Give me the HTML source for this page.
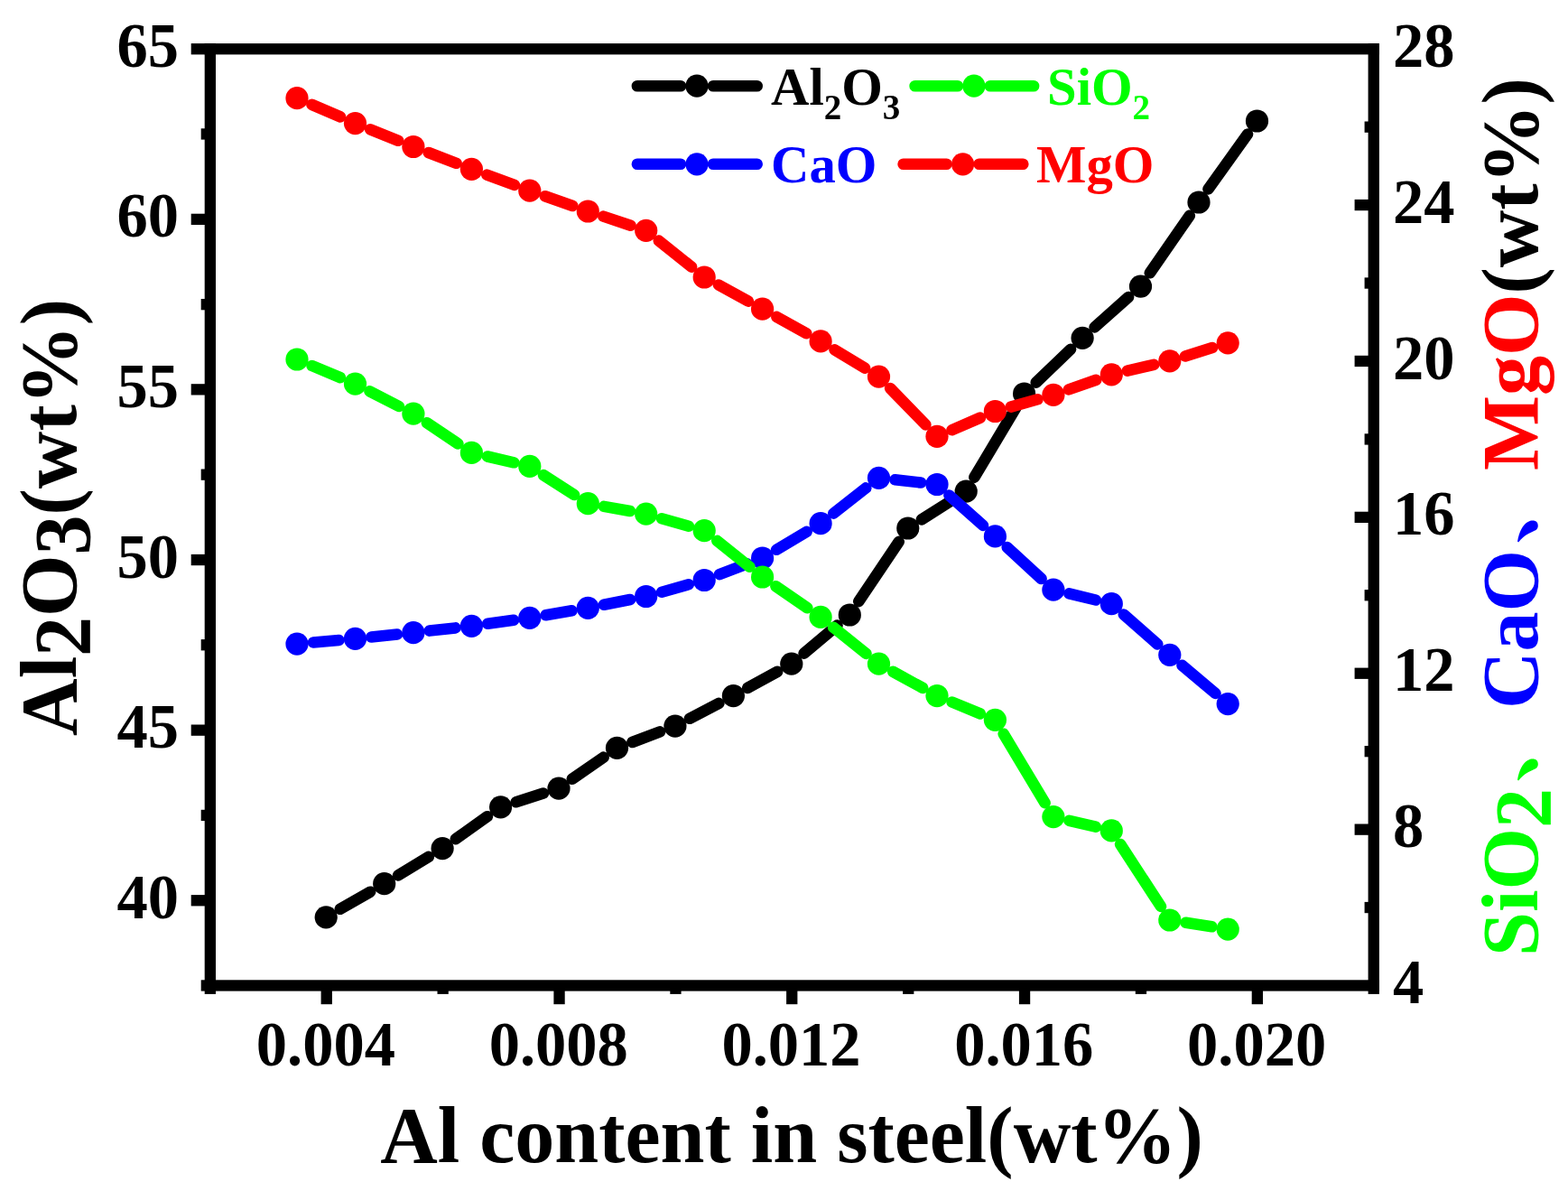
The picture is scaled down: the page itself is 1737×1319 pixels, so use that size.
<!DOCTYPE html>
<html lang="en">
<head>
<meta charset="utf-8">
<title>Al content in steel vs inclusion composition</title>
<style>
html,body{margin:0;padding:0;background:#fff;}
body{width:1737px;height:1319px;overflow:hidden;}
svg{display:block;}
text{font-family:"Liberation Serif","Noto Serif CJK SC","Noto Sans CJK SC",serif;font-weight:bold;}
.tk{font-size:68.5px;}
.ti{font-size:88px;}
.lg{font-size:58.7px;}
</style>
</head>
<body>
<svg width="1737" height="1319" viewBox="0 0 1737 1319">
<rect width="1737" height="1319" fill="#fff"/>

<g id="series">
<path d="M376.8 1006.8L410.1 987.7M441.1 969.4L474.8 948.9M504.8 929.2L539.9 904.2M571.7 888.3L601.9 878.6M633.8 862.8L668.7 838.6M700.4 822.0L731.1 810.4M763.9 795.8L796.4 778.9M828.2 761.9L861.1 743.9M890.6 723.6L927.5 692.6M951.3 666.1L995.7 599.9M1020.9 575.4L1055.0 553.7M1079.4 528.6L1125.4 451.5M1147.7 423.6L1186.1 386.7M1212.6 362.4L1250.1 329.0M1273.8 302.3L1317.8 238.8M1338.5 209.4L1382.0 148.6" fill="none" stroke="#000" stroke-width="12.6" stroke-linecap="round"/>
<circle cx="361.2" cy="1015.8" r="12.6" fill="#000"/>
<circle cx="425.7" cy="978.7" r="12.6" fill="#000"/>
<circle cx="490.1" cy="939.6" r="12.6" fill="#000"/>
<circle cx="554.6" cy="893.8" r="12.6" fill="#000"/>
<circle cx="619.0" cy="873.1" r="12.6" fill="#000"/>
<circle cx="683.5" cy="828.3" r="12.6" fill="#000"/>
<circle cx="747.9" cy="804.1" r="12.6" fill="#000"/>
<circle cx="812.4" cy="770.6" r="12.6" fill="#000"/>
<circle cx="876.8" cy="735.2" r="12.6" fill="#000"/>
<circle cx="941.3" cy="681.0" r="12.6" fill="#000"/>
<circle cx="1005.8" cy="585.0" r="12.6" fill="#000"/>
<circle cx="1070.2" cy="544.1" r="12.6" fill="#000"/>
<circle cx="1134.6" cy="436.0" r="12.6" fill="#000"/>
<circle cx="1199.1" cy="374.3" r="12.6" fill="#000"/>
<circle cx="1263.5" cy="317.1" r="12.6" fill="#000"/>
<circle cx="1328.0" cy="224.0" r="12.6" fill="#000"/>
<circle cx="1392.5" cy="134.0" r="12.6" fill="#000"/>
<path d="M345.5 115.9L377.0 129.4M410.2 143.3L441.2 155.8M474.7 169.0L505.6 180.8M539.3 193.6L569.9 204.9M603.8 217.2L634.3 228.0M668.4 239.6L698.6 249.7M729.8 266.6L766.1 295.7M796.0 315.6L828.8 333.6M860.4 350.9L893.3 369.2M924.5 387.3L958.1 407.7M986.1 430.0L1025.4 470.4M1054.5 476.2L1085.9 462.6M1119.8 450.6L1149.5 442.3M1183.9 431.4L1214.3 420.8M1248.9 410.7L1278.2 403.9M1313.0 394.5L1343.0 385.1" fill="none" stroke="#f00" stroke-width="12.6" stroke-linecap="round"/>
<circle cx="329.0" cy="108.7" r="12.6" fill="#f00"/>
<circle cx="393.5" cy="136.6" r="12.6" fill="#f00"/>
<circle cx="457.9" cy="162.5" r="12.6" fill="#f00"/>
<circle cx="522.4" cy="187.3" r="12.6" fill="#f00"/>
<circle cx="586.8" cy="211.2" r="12.6" fill="#f00"/>
<circle cx="651.3" cy="234.0" r="12.6" fill="#f00"/>
<circle cx="715.7" cy="255.3" r="12.6" fill="#f00"/>
<circle cx="780.2" cy="307.0" r="12.6" fill="#f00"/>
<circle cx="844.6" cy="342.2" r="12.6" fill="#f00"/>
<circle cx="909.1" cy="377.9" r="12.6" fill="#f00"/>
<circle cx="973.5" cy="417.1" r="12.6" fill="#f00"/>
<circle cx="1038.0" cy="483.3" r="12.6" fill="#f00"/>
<circle cx="1102.4" cy="455.5" r="12.6" fill="#f00"/>
<circle cx="1166.9" cy="437.4" r="12.6" fill="#f00"/>
<circle cx="1231.3" cy="414.8" r="12.6" fill="#f00"/>
<circle cx="1295.8" cy="399.8" r="12.6" fill="#f00"/>
<circle cx="1360.2" cy="379.8" r="12.6" fill="#f00"/>
<path d="M347.0 711.5L375.5 709.0M411.4 705.5L440.0 702.6M475.8 698.6L504.5 695.4M540.2 690.8L569.0 686.8M604.6 681.3L633.5 676.3M668.9 669.8L698.1 664.0M733.1 655.7L762.8 647.3M797.0 636.1L827.8 624.4M860.1 608.8L893.6 588.9M923.3 568.6L959.3 540.4M991.4 531.3L1020.1 534.5M1051.4 548.5L1089.0 581.9M1115.7 606.1L1153.6 641.0M1184.4 657.4L1213.8 664.5M1244.8 680.6L1282.3 713.4M1309.5 736.9L1346.5 768.0" fill="none" stroke="#00f" stroke-width="12.6" stroke-linecap="round"/>
<circle cx="329.0" cy="713.1" r="12.6" fill="#00f"/>
<circle cx="393.5" cy="707.4" r="12.6" fill="#00f"/>
<circle cx="457.9" cy="700.7" r="12.6" fill="#00f"/>
<circle cx="522.4" cy="693.3" r="12.6" fill="#00f"/>
<circle cx="586.8" cy="684.3" r="12.6" fill="#00f"/>
<circle cx="651.3" cy="673.3" r="12.6" fill="#00f"/>
<circle cx="715.7" cy="660.5" r="12.6" fill="#00f"/>
<circle cx="780.2" cy="642.5" r="12.6" fill="#00f"/>
<circle cx="844.6" cy="618.0" r="12.6" fill="#00f"/>
<circle cx="909.1" cy="579.7" r="12.6" fill="#00f"/>
<circle cx="973.5" cy="529.3" r="12.6" fill="#00f"/>
<circle cx="1038.0" cy="536.5" r="12.6" fill="#00f"/>
<circle cx="1102.4" cy="593.9" r="12.6" fill="#00f"/>
<circle cx="1166.9" cy="653.2" r="12.6" fill="#00f"/>
<circle cx="1231.3" cy="668.7" r="12.6" fill="#00f"/>
<circle cx="1295.8" cy="725.3" r="12.6" fill="#00f"/>
<circle cx="1360.2" cy="779.6" r="12.6" fill="#00f"/>
<path d="M345.6 405.0L376.9 418.1M409.5 433.3L441.9 450.0M472.9 468.2L507.4 491.4M539.9 505.5L569.3 512.3M602.0 526.1L636.1 548.0M669.0 560.9L698.0 566.0M733.0 574.2L762.9 582.7M794.3 598.9L830.5 627.8M859.4 649.2L894.3 673.2M923.1 694.7L959.5 723.9M989.3 743.9L1022.2 761.9M1054.6 777.5L1085.8 790.4M1111.7 812.7L1157.6 889.2M1184.4 908.8L1213.8 915.7M1241.1 935.0L1286.0 1003.9M1313.6 1021.8L1342.4 1026.3" fill="none" stroke="#0f0" stroke-width="12.6" stroke-linecap="round"/>
<circle cx="329.0" cy="398.0" r="12.6" fill="#0f0"/>
<circle cx="393.5" cy="425.1" r="12.6" fill="#0f0"/>
<circle cx="457.9" cy="458.2" r="12.6" fill="#0f0"/>
<circle cx="522.4" cy="501.4" r="12.6" fill="#0f0"/>
<circle cx="586.8" cy="516.4" r="12.6" fill="#0f0"/>
<circle cx="651.3" cy="557.7" r="12.6" fill="#0f0"/>
<circle cx="715.7" cy="569.2" r="12.6" fill="#0f0"/>
<circle cx="780.2" cy="587.7" r="12.6" fill="#0f0"/>
<circle cx="844.6" cy="639.0" r="12.6" fill="#0f0"/>
<circle cx="909.1" cy="683.4" r="12.6" fill="#0f0"/>
<circle cx="973.5" cy="735.2" r="12.6" fill="#0f0"/>
<circle cx="1038.0" cy="770.6" r="12.6" fill="#0f0"/>
<circle cx="1102.4" cy="797.3" r="12.6" fill="#0f0"/>
<circle cx="1166.9" cy="904.6" r="12.6" fill="#0f0"/>
<circle cx="1231.3" cy="919.9" r="12.6" fill="#0f0"/>
<circle cx="1295.8" cy="1019.0" r="12.6" fill="#0f0"/>
<circle cx="1360.2" cy="1029.1" r="12.6" fill="#0f0"/>
</g>
<g id="axes" fill="#000"><rect x="226.7" y="48.1" width="12.3" height="1052.8"/>
<rect x="1515.6" y="48.1" width="12.3" height="1052.8"/>
<rect x="226.7" y="48.1" width="1301.3" height="12.3"/>
<rect x="222.7" y="1085.3" width="1305.3" height="12.3"/>
<rect x="211.7" y="48.1" width="16" height="12.3"/>
<rect x="222.7" y="142.3" width="5" height="12.3"/>
<rect x="211.7" y="236.7" width="16" height="12.3"/>
<rect x="222.7" y="331.0" width="5" height="12.3"/>
<rect x="211.7" y="425.2" width="16" height="12.3"/>
<rect x="222.7" y="519.5" width="5" height="12.3"/>
<rect x="211.7" y="613.9" width="16" height="12.3"/>
<rect x="222.7" y="708.1" width="5" height="12.3"/>
<rect x="211.7" y="802.5" width="16" height="12.3"/>
<rect x="222.7" y="896.8" width="5" height="12.3"/>
<rect x="211.7" y="991.1" width="16" height="12.3"/>
<rect x="1511.6" y="134.5" width="5" height="12.3"/>
<rect x="1500.6" y="220.9" width="16" height="12.3"/>
<rect x="1511.6" y="307.4" width="5" height="12.3"/>
<rect x="1500.6" y="393.8" width="16" height="12.3"/>
<rect x="1511.6" y="480.3" width="5" height="12.3"/>
<rect x="1500.6" y="566.7" width="16" height="12.3"/>
<rect x="1511.6" y="653.1" width="5" height="12.3"/>
<rect x="1500.6" y="739.6" width="16" height="12.3"/>
<rect x="1511.6" y="826.0" width="5" height="12.3"/>
<rect x="1500.6" y="912.5" width="16" height="12.3"/>
<rect x="1511.6" y="998.9" width="5" height="12.3"/>
<rect x="355.6" y="1096.7" width="12.3" height="15.5"/>
<rect x="484.5" y="1096.7" width="12.3" height="4.2"/>
<rect x="613.4" y="1096.7" width="12.3" height="15.5"/>
<rect x="742.3" y="1096.7" width="12.3" height="4.2"/>
<rect x="871.1" y="1096.7" width="12.3" height="15.5"/>
<rect x="1000.1" y="1096.7" width="12.3" height="4.2"/>
<rect x="1128.9" y="1096.7" width="12.3" height="15.5"/>
<rect x="1257.8" y="1096.7" width="12.3" height="4.2"/>
<rect x="1386.7" y="1096.7" width="12.3" height="15.5"/></g>
<g id="ticklabels"><text class="tk" transform="translate(198,73.7) scale(1,1.03)" text-anchor="end">65</text>
<text class="tk" transform="translate(198,262.3) scale(1,1.03)" text-anchor="end">60</text>
<text class="tk" transform="translate(198,450.9) scale(1,1.03)" text-anchor="end">55</text>
<text class="tk" transform="translate(198,639.5) scale(1,1.03)" text-anchor="end">50</text>
<text class="tk" transform="translate(198,828.1) scale(1,1.03)" text-anchor="end">45</text>
<text class="tk" transform="translate(198,1016.7) scale(1,1.03)" text-anchor="end">40</text>
<text class="tk" transform="translate(1543,73.7) scale(1,1.03)">28</text>
<text class="tk" transform="translate(1543,246.6) scale(1,1.03)">24</text>
<text class="tk" transform="translate(1543,419.5) scale(1,1.03)">20</text>
<text class="tk" transform="translate(1543,592.4) scale(1,1.03)">16</text>
<text class="tk" transform="translate(1543,765.2) scale(1,1.03)">12</text>
<text class="tk" transform="translate(1543,938.1) scale(1,1.03)">8</text>
<text class="tk" transform="translate(1543,1111.0) scale(1,1.03)">4</text>
<text class="tk" transform="translate(360.9,1180) scale(1,1.03)" text-anchor="middle">0.004</text>
<text class="tk" transform="translate(618.7,1180) scale(1,1.03)" text-anchor="middle">0.008</text>
<text class="tk" transform="translate(876.5,1180) scale(1,1.03)" text-anchor="middle">0.012</text>
<text class="tk" transform="translate(1134.3,1180) scale(1,1.03)" text-anchor="middle">0.016</text>
<text class="tk" transform="translate(1392.1,1180) scale(1,1.03)" text-anchor="middle">0.020</text></g>
<text class="ti" x="877" y="1287" text-anchor="middle">Al content in steel(wt%)</text>
<text class="ti" transform="translate(83.5,814.9) rotate(-90)"><tspan x="0.00" y="0" fill="#000">Al</tspan><tspan x="88.00" y="15" fill="#000">2</tspan><tspan x="132.00" y="0" fill="#000">O</tspan><tspan x="200.45" y="15" fill="#000">3</tspan><tspan x="244.45" y="0" fill="#000">(wt%)</tspan></text>
<text class="ti" transform="translate(1702.5,1058.9) rotate(-90)"><tspan x="0.00" y="0" fill="#0f0">SiO</tspan><tspan x="141.84" y="14.5" fill="#0f0">2</tspan><tspan x="191.34" y="-6.5" fill="#0f0">、</tspan><tspan x="273.84" y="0" fill="#00f">CaO</tspan><tspan x="455.34" y="-6.5" fill="#00f">、</tspan><tspan x="537.84" y="0" fill="#f00">MgO</tspan><tspan x="733.35" y="0" fill="#000">(wt%)</tspan></text>
<g id="legend"><path d="M705.9 95.2L754.0 95.2M790.0 95.2L838.7 95.2" fill="none" stroke="#000" stroke-width="12.6" stroke-linecap="round"/><circle cx="772" cy="95.2" r="12.6" fill="#000"/>
<text class="lg" x="854" y="115.5">Al<tspan font-size="39" dy="16">2</tspan><tspan dy="-16">O</tspan><tspan font-size="39" dy="16">3</tspan></text>
<path d="M1013.6 95.2L1060.9 95.2M1096.9 95.2L1145.1 95.2" fill="none" stroke="#0f0" stroke-width="12.6" stroke-linecap="round"/><circle cx="1078.9" cy="95.2" r="12.6" fill="#0f0"/>
<text class="lg" x="1160" y="115.5" fill="#0f0">SiO<tspan font-size="39" dy="16">2</tspan></text>
<path d="M705.9 181.8L754.0 181.8M790.0 181.8L838.7 181.8" fill="none" stroke="#00f" stroke-width="12.6" stroke-linecap="round"/><circle cx="772" cy="181.8" r="12.6" fill="#00f"/>
<text class="lg" x="854" y="201.5" fill="#00f">CaO</text>
<path d="M1000.6 181.8L1048.6 181.8M1084.6 181.8L1133.3 181.8" fill="none" stroke="#f00" stroke-width="12.6" stroke-linecap="round"/><circle cx="1066.6" cy="181.8" r="12.6" fill="#f00"/>
<text class="lg" x="1148" y="201.5" fill="#f00">MgO</text></g>
</svg>
</body>
</html>
